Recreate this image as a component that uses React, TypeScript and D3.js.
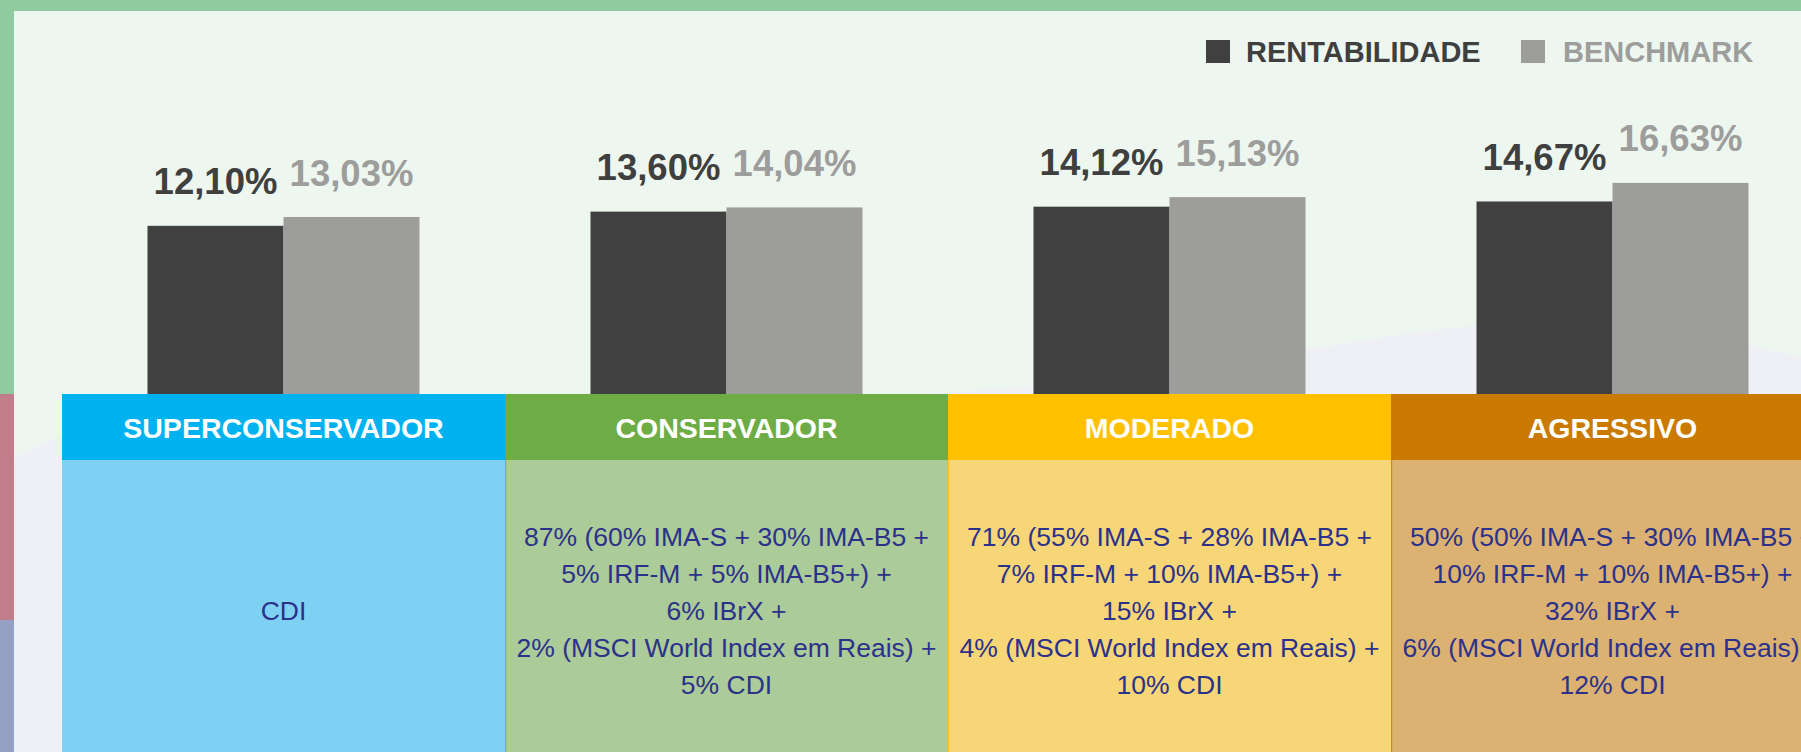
import React from "react";
import * as d3 from "d3";

const categories = ["SUPERCONSERVADOR", "CONSERVADOR", "MODERADO", "AGRESSIVO"];
const rentabilidade = [12.1, 13.6, 14.12, 14.67];
const benchmark = [13.03, 14.04, 15.13, 16.63];
const legendLabels = ["RENTABILIDADE", "BENCHMARK"];
const benchmarkComposition: string[][] = [
  ["CDI"],
  [
    "87% (60% IMA-S + 30% IMA-B5 +",
    "5% IRF-M + 5% IMA-B5+) +",
    "6% IBrX +",
    "2% (MSCI World Index em Reais) +",
    "5% CDI",
  ],
  [
    "71% (55% IMA-S + 28% IMA-B5 +",
    "7% IRF-M + 10% IMA-B5+) +",
    "15% IBrX +",
    "4% (MSCI World Index em Reais) +",
    "10% CDI",
  ],
  [
    "50% (50% IMA-S + 30% IMA-B5 +",
    "10% IRF-M + 10% IMA-B5+) +",
    "32% IBrX +",
    "6% (MSCI World Index em Reais) +",
    "12% CDI",
  ],
];

const W = 1801;
const H = 752;
const FONT = "'Liberation Sans', Arial, Helvetica, sans-serif";
const DARK = "#404040";
const GREY = "#9d9d9c";
const headerColors = ["#00b2ef", "#6eac46", "#ffc000", "#ca7a00"];
const bodyColors = ["#7fd1f3", "#abcb98", "#f7d677", "#dbb272"];
const TEXT_NAVY = "#2c318a";

const fmt = (v: number) => v.toFixed(2).replace(".", ",") + "%";

export default function App() {
  const tableLeft = 62;
  const cellW = 443;
  const headerTop = 394;
  const headerBottom = 460;
  const x = d3
    .scaleBand<string>()
    .domain(categories)
    .range([tableLeft, tableLeft + cellW * categories.length])
    .padding(0);
  const y = d3.scaleLinear().domain([0, 20]).range([340.4, 151]);
  const barW = 136;
  const barBottom = headerTop + 6;

  const wavePts: [number, number][] = [
    [0, 466],
    [62, 437],
    [250, 412],
    [500, 402],
    [800, 398],
    [1050, 385],
    [1300, 350],
    [1484, 325],
    [1600, 321],
    [1754, 347],
    [1801, 357],
  ];
  const waveLine = d3.line().curve(d3.curveMonotoneX)(wavePts) || "";
  const wavePath = `${waveLine} L${W},${H} L0,${H} Z`;

  const lineH = 37.15;
  const midBase = 620;

  return (
    <svg
      width={W}
      height={H}
      style={{ position: "absolute", left: 0, top: 0, display: "block" }}
      fontFamily={FONT}
    >
      <rect x={0} y={0} width={W} height={H} fill="#edf7f0" />
      <path d={wavePath} fill="#eff0f6" />
      {/* frame */}
      <rect x={0} y={0} width={W} height={11} fill="#90cba0" />
      <rect x={0} y={0} width={14} height={394} fill="#90cba0" />
      <rect x={0} y={394} width={14} height={226} fill="#c27d8b" />
      <rect x={0} y={620} width={14} height={H - 620} fill="#96a0c4" />

      {/* legend */}
      <rect x={1206} y={40} width={24} height={23} fill={DARK} />
      <text x={1246} y={62} fontSize={29} fontWeight="bold" fill="#3f3f3f">
        {legendLabels[0]}
      </text>
      <rect x={1521} y={40} width={24} height={23} fill={GREY} />
      <text x={1563} y={62} fontSize={29} fontWeight="bold" fill={GREY}>
        {legendLabels[1]}
      </text>

      {/* bars */}
      {categories.map((c, i) => {
        const cx = (x(c) as number) + x.bandwidth() / 2;
        const r = rentabilidade[i];
        const b = benchmark[i];
        return (
          <g key={c}>
            <rect x={cx - barW} y={y(r)} width={barW} height={barBottom - y(r)} fill={DARK} />
            <rect x={cx} y={y(b)} width={barW} height={barBottom - y(b)} fill={GREY} />
            <text
              x={cx - barW / 2}
              y={y(r) - 31.5}
              textAnchor="middle"
              fontSize={36.5}
              fontWeight="bold"
              fill="#3f3f3f"
            >
              {fmt(r)}
            </text>
            <text
              x={cx + barW / 2}
              y={y(b) - 31.5}
              textAnchor="middle"
              fontSize={36.5}
              fontWeight="bold"
              fill={GREY}
            >
              {fmt(b)}
            </text>
          </g>
        );
      })}

      {/* table */}
      {categories.map((c, i) => {
        const x0 = x(c) as number;
        const cx = x0 + x.bandwidth() / 2;
        const lines = benchmarkComposition[i];
        const n = lines.length;
        return (
          <g key={"t" + c}>
            <rect x={x0} y={headerTop} width={cellW} height={headerBottom - headerTop} fill={headerColors[i]} />
            <rect x={x0} y={headerBottom} width={cellW} height={H - headerBottom} fill={bodyColors[i]} />
            {i > 0 && (
              <rect x={x0} y={headerTop} width={1.2} height={H - headerTop} fill={headerColors[i]} opacity={0.75} />
            )}
            <text x={cx} y={438} textAnchor="middle" fontSize={28.5} fontWeight="bold" fill="#ffffff">
              {c}
            </text>
            {lines.map((ln, k) => (
              <text
                key={k}
                x={cx}
                y={midBase + (k - (n - 1) / 2) * lineH}
                textAnchor="middle"
                fontSize={26.5}
                fill={TEXT_NAVY}
              >
                {ln}
              </text>
            ))}
          </g>
        );
      })}
    </svg>
  );
}
